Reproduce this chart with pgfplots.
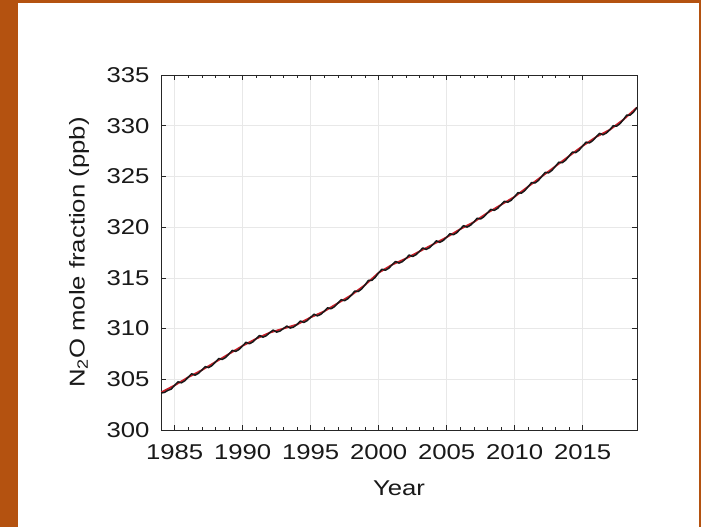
\documentclass[border=0pt]{standalone}
\usepackage{fontspec}
\setmainfont{Liberation Sans}[FakeStretch=1.2]
\usepackage{pgfplots}
\pgfplotsset{compat=1.18}
\definecolor{frame}{RGB}{180,82,16}
\definecolor{gridc}{RGB}{232,232,232}
\definecolor{trend}{RGB}{200,30,40}
\begin{document}
\begin{tikzpicture}[x=1bp,y=1bp]
\fill[frame] (0,0) rectangle (701,527);
\fill[white] (18,0) rectangle (699,524);
\useasboundingbox (0,0) rectangle (701,527);
\begin{axis}[
  at={(161bp,97bp)}, anchor=south west,
  scale only axis, width=476bp, height=355bp,
  xmin=1984, xmax=2019, ymin=300, ymax=335,
  xtick={1985,1990,...,2015}, ytick={300,305,...,335},
  minor x tick num=4,
  tick align=inside, major tick length=5bp, minor tick length=3bp,
  xtick pos=both, ytick pos=both,
  grid=major, major grid style={gridc, line width=0.5pt},
  axis line style={black!85, line width=0.8pt},
  tick style={black!85, line width=0.6pt},
  /pgf/number format/assume math mode=true,
  /pgf/number format/1000 sep={},
  tick label style={font=\fontsize{21.5}{24}\selectfont, black!90},
  xticklabel style={yshift=-11bp},
  yticklabel style={xshift=-8bp},
  xlabel={Year}, ylabel={N\textsubscript{2}O mole fraction (ppb)},
  label style={font=\fontsize{21.5}{24}\selectfont, black!90},
  xlabel style={at={(axis description cs:0.5,0)}, anchor=center, yshift=-58bp},
  ylabel style={at={(axis description cs:0,0.5)}, anchor=center, rotate=0, yshift=82bp},
  clip=true,
]
\addplot[trend, line width=1.8pt] coordinates {
(1984,303.7)(1985,304.4)(1986,305.2)(1987,305.9)(1988,306.7)(1989,307.5)
(1990,308.3)(1991,309.0)(1992,309.6)(1993,310.0)(1994,310.4)(1995,311.1)
(1996,311.7)(1997,312.5)(1998,313.3)(1999,314.3)(2000,315.5)(2001,316.3)
(2002,316.9)(2003,317.6)(2004,318.3)(2005,319.0)(2006,319.8)(2007,320.5)
(2008,321.4)(2009,322.2)(2010,323.0)(2011,324.0)(2012,325.0)(2013,326.0)
(2014,327.0)(2015,328.0)(2016,328.9)(2017,329.6)(2018,330.6)(2019,331.8)
};
\addplot[black!90, line width=1.5pt, line join=round] coordinates {
(1984.00,303.65)(1984.25,303.70)(1984.50,303.90)(1984.75,304.03)
(1985.00,304.40)(1985.25,304.75)(1985.50,304.65)(1985.75,304.85)
(1986.00,305.20)(1986.25,305.55)(1986.50,305.40)(1986.75,305.58)
(1987.00,305.90)(1987.25,306.25)(1987.50,306.15)(1987.75,306.35)
(1988.00,306.70)(1988.25,307.05)(1988.50,306.95)(1988.75,307.15)
(1989.00,307.50)(1989.25,307.85)(1989.50,307.75)(1989.75,307.95)
(1990.00,308.30)(1990.25,308.65)(1990.50,308.50)(1990.75,308.68)
(1991.00,309.00)(1991.25,309.32)(1991.50,309.15)(1991.75,309.30)
(1992.00,309.60)(1992.25,309.85)(1992.50,309.65)(1992.75,309.75)
(1993.00,310.00)(1993.25,310.25)(1993.50,310.05)(1993.75,310.15)
(1994.00,310.40)(1994.25,310.75)(1994.50,310.60)(1994.75,310.78)
(1995.00,311.10)(1995.25,311.42)(1995.50,311.25)(1995.75,311.40)
(1996.00,311.70)(1996.25,312.05)(1996.50,311.95)(1996.75,312.15)
(1997.00,312.50)(1997.25,312.85)(1997.50,312.75)(1997.75,312.95)
(1998.00,313.30)(1998.25,313.70)(1998.50,313.65)(1998.75,313.90)
(1999.00,314.30)(1999.25,314.75)(1999.50,314.75)(1999.75,315.05)
(2000.00,315.50)(2000.25,315.85)(2000.50,315.75)(2000.75,315.95)
(2001.00,316.30)(2001.25,316.62)(2001.50,316.45)(2001.75,316.60)
(2002.00,316.90)(2002.25,317.25)(2002.50,317.10)(2002.75,317.28)
(2003.00,317.60)(2003.25,317.95)(2003.50,317.80)(2003.75,317.98)
(2004.00,318.30)(2004.25,318.65)(2004.50,318.50)(2004.75,318.68)
(2005.00,319.00)(2005.25,319.35)(2005.50,319.25)(2005.75,319.45)
(2006.00,319.80)(2006.25,320.15)(2006.50,320.00)(2006.75,320.18)
(2007.00,320.50)(2007.25,320.88)(2007.50,320.80)(2007.75,321.03)
(2008.00,321.40)(2008.25,321.75)(2008.50,321.65)(2008.75,321.85)
(2009.00,322.20)(2009.25,322.55)(2009.50,322.45)(2009.75,322.65)
(2010.00,323.00)(2010.25,323.40)(2010.50,323.35)(2010.75,323.60)
(2011.00,324.00)(2011.25,324.40)(2011.50,324.35)(2011.75,324.60)
(2012.00,325.00)(2012.25,325.40)(2012.50,325.35)(2012.75,325.60)
(2013.00,326.00)(2013.25,326.40)(2013.50,326.35)(2013.75,326.60)
(2014.00,327.00)(2014.25,327.40)(2014.50,327.35)(2014.75,327.60)
(2015.00,328.00)(2015.25,328.38)(2015.50,328.30)(2015.75,328.53)
(2016.00,328.90)(2016.25,329.25)(2016.50,329.10)(2016.75,329.28)
(2017.00,329.60)(2017.25,330.00)(2017.50,329.95)(2017.75,330.20)
(2018.00,330.60)(2018.25,331.05)(2018.50,331.05)(2018.75,331.35)
(2019.00,331.80)
};
\end{axis}
\end{tikzpicture}
\end{document}
